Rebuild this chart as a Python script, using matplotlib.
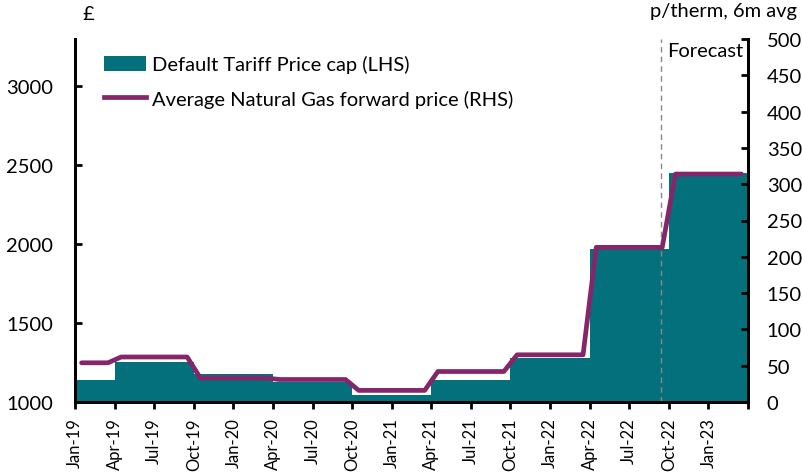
import matplotlib
matplotlib.use("Agg")
import matplotlib.pyplot as plt
import matplotlib.transforms as mtransforms
from matplotlib.lines import Line2D
from matplotlib.patches import Patch
import numpy as np

plt.rcParams['font.family'] = ['Lato', 'DejaVu Sans']

months = ["Jan-19","Feb-19","Mar-19","Apr-19","May-19","Jun-19","Jul-19","Aug-19","Sep-19",
          "Oct-19","Nov-19","Dec-19","Jan-20","Feb-20","Mar-20","Apr-20","May-20","Jun-20",
          "Jul-20","Aug-20","Sep-20","Oct-20","Nov-20","Dec-20","Jan-21","Feb-21","Mar-21",
          "Apr-21","May-21","Jun-21","Jul-21","Aug-21","Sep-21","Oct-21","Nov-21","Dec-21",
          "Jan-22","Feb-22","Mar-22","Apr-22","May-22","Jun-22","Jul-22","Aug-22","Sep-22",
          "Oct-22","Nov-22","Dec-22","Jan-23","Feb-23","Mar-23"]

price_cap = [1137, 1137, 1137, 1254, 1254, 1254, 1254, 1254, 1254,
             1179, 1179, 1179, 1179, 1179, 1179, 1126, 1126, 1126,
             1126, 1126, 1126, 1042, 1042, 1042, 1042, 1042, 1042,
             1138, 1138, 1138, 1138, 1138, 1138, 1277, 1277, 1277,
             1277, 1277, 1277, 1971, 1971, 1971, 1971, 1971, 1971,
             2450, 2450, 2450, 2450, 2450, 2450]

gas_price = [54, 54, 54, 62, 62, 62, 62, 62, 62,
             33, 33, 33, 33, 33, 33, 31, 31, 31,
             31, 31, 31, 16, 16, 16, 16, 16, 16,
             42, 42, 42, 42, 42, 42, 65, 65, 65,
             65, 65, 65, 213, 213, 213, 213, 213, 213,
             314, 314, 314, 314, 314, 314]

tick_labels = ["Jan-19","Apr-19","Jul-19","Oct-19","Jan-20","Apr-20","Jul-20","Oct-20","Jan-21",
               "Apr-21","Jul-21","Oct-21","Jan-22","Apr-22","Jul-22","Oct-22","Jan-23"]

teal = "#03707B"
purple = "#85266A"
fs = 14.5

fig = plt.figure(figsize=(8.03, 4.77), dpi=100)
ax = fig.add_axes([75/803, 1-403/477, (748-75)/803, (403-40)/477])
ax2 = ax.twinx()

x = np.arange(len(months))
ax.bar(x, price_cap, width=1.0, align='edge', color=teal, zorder=2)
ax.set_xlim(0, len(months))
ax.set_ylim(1000, 3300)
ax.set_yticks([1000, 1500, 2000, 2500, 3000])

ax2.plot(x + 0.5, gas_price, color=purple, lw=3.4, solid_capstyle='round', zorder=3)
ax2.set_ylim(0, 500)
ax2.set_yticks(np.arange(0, 501, 50))

ax.axvline(44.4, color='#888888', lw=1, ls=(0, (4, 3)), zorder=3)
ax.text(44.9, 3230, "Forecast", fontsize=fs, va='center', ha='left')

xt = np.arange(0, len(months) + 1, 3)
ax.set_xticks(xt)
ax.set_xticklabels(tick_labels + [""], rotation=90, fontsize=12)
offset = mtransforms.ScaledTranslation(4/100, 0, fig.dpi_scale_trans)
for lab in ax.get_xticklabels():
    lab.set_transform(lab.get_transform() + offset)

for a in (ax, ax2):
    a.spines['top'].set_visible(False)
    for s in a.spines.values():
        s.set_linewidth(2)
        s.set_color('black')
ax.tick_params(axis='y', direction='in', length=5, width=2, labelsize=fs, pad=15.5)
ax2.tick_params(axis='y', direction='in', length=5, width=2, labelsize=fs, pad=13.5)
ax.tick_params(axis='x', direction='out', length=5, width=2, pad=6)

handles = [Patch(facecolor=teal, edgecolor='none'),
           Line2D([0], [0], color=purple, lw=3.4)]
labels = ["Default Tariff Price cap (LHS)", "Average Natural Gas forward price (RHS)"]
leg = ax2.legend(handles, labels, loc='upper left', bbox_to_anchor=(0.016, 1.005),
                 frameon=False, fontsize=fs, handlelength=2.1, handleheight=0.8,
                 labelspacing=0.8, handletextpad=0.3)

fig.text(88/803, 1-15/477, "£", fontsize=fs, ha='center', va='center')
fig.text(797/803, 1-12/477, "p/therm, 6m avg", fontsize=fs, ha='right', va='center')

fig.savefig("out.png", dpi=100)
